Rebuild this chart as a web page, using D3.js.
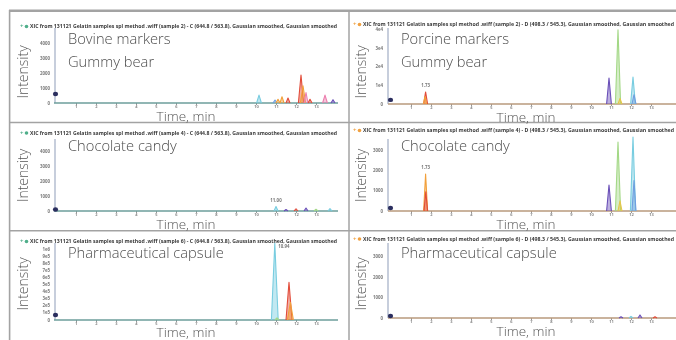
<!DOCTYPE html>
<html><head><meta charset="utf-8">
<script src="https://cdn.jsdelivr.net/npm/d3@7"></script>
<style>body{margin:0;background:#fff}svg{display:block}</style>
</head><body><svg id="c" width="676" height="340"></svg>
<script>
// ---------------- data ----------------
const timeTicks = [1,2,3,4,5,6,7,8,9,10,11,12,13];
const markerSeries = ["cyan","blue","green","purple","red","orange","pink","yellow"];
const seriesColors = ["#78cde0","#6f9fe0","#a3d886","#6a4fb8","#e24c3a","#f2a03a","#ec7eae","#e6c64a"];

const panelTitles = [
  ["Bovine markers","Gummy bear"], ["Porcine markers","Gummy bear"],
  ["Chocolate candy"], ["Chocolate candy"],
  ["Pharmaceutical capsule"], ["Pharmaceutical capsule"]
];
const headerTexts = [
  "XIC from 131121 Gelatin samples spl method .wiff (sample 2) - C (644.8 / 563.8), Gaussian smoothed, Gaussian smoothed",
  "XIC from 131121 Gelatin samples spl method .wiff (sample 2) - D (498.3 / 545.3), Gaussian smoothed, Gaussian smoothed",
  "XIC from 131121 Gelatin samples spl method .wiff (sample 4) - C (644.8 / 563.8), Gaussian smoothed, Gaussian smoothed",
  "XIC from 131121 Gelatin samples spl method .wiff (sample 4) - D (498.3 / 545.3), Gaussian smoothed, Gaussian smoothed",
  "XIC from 131121 Gelatin samples spl method .wiff (sample 6) - C (644.8 / 563.8), Gaussian smoothed, Gaussian smoothed",
  "XIC from 131121 Gelatin samples spl method .wiff (sample 6) - D (498.3 / 545.3), Gaussian smoothed, Gaussian smoothed"
];

// peaks: [retention time (min), intensity, half width (min), series]
const bovineGummyPeaks = [
  [10.15, 530, 0.12, "cyan"], [10.95, 200, 0.10, "blue"], [11.1, 250, 0.10, "orange"],
  [11.3, 420, 0.10, "orange"], [11.6, 330, 0.10, "red"], [12.25, 1870, 0.13, "red"],
  [12.35, 1150, 0.13, "orange"], [12.5, 700, 0.10, "pink"], [12.7, 250, 0.10, "red"],
  [13.45, 530, 0.12, "pink"], [13.85, 220, 0.10, "purple"]
];
const porcineGummyPeaks = [
  [1.73, 6500, 0.10, "red"], [1.70, 4000, 0.08, "orange"], [10.9, 14000, 0.12, "purple"],
  [11.35, 40000, 0.13, "green"], [11.45, 3000, 0.10, "yellow"], [12.1, 14500, 0.12, "cyan"],
  [12.15, 5000, 0.10, "blue"]
];
const bovineChocolatePeaks = [
  [11.0, 300, 0.10, "cyan"], [11.5, 100, 0.10, "purple"], [12.0, 150, 0.10, "red"],
  [12.5, 200, 0.10, "purple"], [13.0, 120, 0.10, "green"], [13.7, 160, 0.10, "cyan"]
];
const porcineChocolatePeaks = [
  [1.73, 1820, 0.10, "orange"], [1.74, 950, 0.09, "red"], [10.9, 1280, 0.12, "purple"],
  [11.35, 3400, 0.13, "green"], [11.45, 500, 0.10, "yellow"], [12.1, 3650, 0.13, "cyan"],
  [12.15, 1500, 0.10, "blue"]
];
const bovinePharmaPeaks = [
  [10.94, 1080000, 0.17, "cyan"], [11.05, 30000, 0.10, "green"],
  [11.65, 530000, 0.15, "red"], [11.72, 250000, 0.15, "orange"]
];
const porcinePharmaPeaks = [
  [11.5, 60, 0.10, "purple"], [12.0, 80, 0.10, "cyan"], [12.45, 150, 0.10, "purple"], [13.2, 60, 0.10, "red"]
];
// intensity of each trace at t = 0 (start marker)
const startIntensity = [600, 2200, 60, 150, 70000, 100];
// labelled peak retention times
const labelRT = [null, 1.73, 11.0, 1.73, 10.94, null];

const yTicksBovineGummy = [0,1000,2000,3000,4000];
const yLabelsBovineGummy = ["0","1000","2000","3000","4000"];
const yTicksPorcineGummy = [0,10000,20000,30000,40000];
const yLabelsPorcineGummy = ["0","1e4","2e4","3e4","4e4"];
const yTicksBovineChocolate = [0,1000,2000,3000,4000];
const yLabelsBovineChocolate = ["0","1000","2000","3000","4000"];
const yTicksPorcineChocolate = [0,1000,2000,3000];
const yLabelsPorcineChocolate = ["0","1000","2000","3000"];
const yTicksBovinePharma = [0,1e5,2e5,3e5,4e5,5e5,6e5,7e5,8e5,9e5,1e6];
const yLabelsBovinePharma = ["0","1e5","2e5","3e5","4e5","5e5","6e5","7e5","8e5","9e5","1e6"];
const yTicksPorcinePharma = [0,1000,2000,3000];
const yLabelsPorcinePharma = ["0","1000","2000","3000"];

const yMaxes = [5000, 41000, 4800, 3550, 1085000, 3660];

// ---------------- layout ----------------
const svg = d3.select("#c");
const defs = svg.append("defs");
defs.append("filter").attr("id","soft").attr("x","-5%").attr("y","-5%").attr("width","110%").attr("height","110%")
  .append("feGaussianBlur").attr("stdDeviation",0.45);
const root = svg.append("g").attr("filter","url(#soft)");

const cols = [
  {xr:[54,338], dom:[-0.1,14.1], yAxisX:55, titleX:68, intX:22.5, tickLabX:50, hx0:20, hx1:337, timeX:186, axisCol:"#6d9e9b", mark:"#4fae8a"},
  {xr:[388,676], dom:[-0.15,14.25], yAxisX:388, titleX:401, intX:361, tickLabX:383, hx0:353, hx1:674, timeX:526, axisCol:"#b99a7c", mark:"#f0a040"}
];
const rows = [
  {top:[28,28], base:[103,104], titleY:[44,66.7], headY:[26.5,24.5], intY:72},
  {top:[139,139], base:[211,211], titleY:[151], headY:[133,130.5], intY:175.5},
  {top:[243,243], base:[320,318], titleY:[257.5], headY:[241.5,239], intY:284}
];
const timeGap = 17.8;
const peaksByPanel = [bovineGummyPeaks, porcineGummyPeaks, bovineChocolatePeaks, porcineChocolatePeaks, bovinePharmaPeaks, porcinePharmaPeaks];
const yTicksByPanel = [yTicksBovineGummy, yTicksPorcineGummy, yTicksBovineChocolate, yTicksPorcineChocolate, yTicksBovinePharma, yTicksPorcinePharma];
const yLabelsByPanel = [yLabelsBovineGummy, yLabelsPorcineGummy, yLabelsBovineChocolate, yLabelsPorcineChocolate, yLabelsBovinePharma, yLabelsPorcinePharma];

const color = d3.scaleOrdinal().domain(markerSeries).range(seriesColors);
const font = "'Open Sans', 'Noto Sans', sans-serif";

// frame
const frame = root.append("g").attr("stroke","#a3a3a3").attr("fill","none");
frame.append("line").attr("x1",9).attr("x2",676).attr("y1",10.8).attr("y2",10.8).attr("stroke-width",2.6);
frame.append("line").attr("x1",9.6).attr("x2",9.6).attr("y1",10).attr("y2",340).attr("stroke-width",1.6);
frame.append("line").attr("x1",349).attr("x2",349).attr("y1",10).attr("y2",340).attr("stroke-width",1.5);
frame.append("line").attr("x1",9).attr("x2",676).attr("y1",122.5).attr("y2",122.5).attr("stroke-width",1.5);
frame.append("line").attr("x1",9).attr("x2",676).attr("y1",230.8).attr("y2",230.8).attr("stroke-width",1.5);

const line = d3.line();

peaksByPanel.forEach((peaks, i) => {
  const c = cols[i % 2], r = rows[Math.floor(i / 2)], side = i % 2;
  const top = r.top[side], base = r.base[side];
  const x = d3.scaleLinear().domain(c.dom).range(c.xr);
  const y = d3.scaleLinear().domain([0, yMaxes[i]]).range([base, top]);
  const g = root.append("g");

  // header
  g.append("text").attr("x", c.hx0).attr("y", r.headY[side] + 1.5).attr("font-family", font)
    .attr("font-size", 6).attr("font-weight", 700).attr("fill", c.mark).text("+");
  g.append("circle").attr("cx", c.hx0 + 6.5).attr("cy", r.headY[side]).attr("r", 1.8).attr("fill", c.mark);
  g.append("text").attr("x", c.hx0 + 10).attr("y", r.headY[side] + 1.6).attr("font-family", font)
    .attr("font-size", 4.6).attr("font-weight", 700).attr("fill", "#3a3a3a")
    .attr("textLength", c.hx1 - c.hx0 - 10).attr("lengthAdjust", "spacingAndGlyphs").text(headerTexts[i]);

  // y axis
  g.append("line").attr("x1", c.yAxisX).attr("x2", c.yAxisX).attr("y1", top).attr("y2", base)
    .attr("stroke", "#b9c2d4").attr("stroke-width", 1.6);
  const yt = yTicksByPanel[i], yl = yLabelsByPanel[i];
  g.selectAll(".yl").data(yt).enter().append("text")
    .attr("x", c.tickLabX).attr("y", d => y(d) + 1.5).attr("text-anchor", "end")
    .attr("font-family", font).attr("font-size", 4.4).attr("font-weight", 700).attr("fill", "#7a7a7a")
    .text((d, k) => yl[k]);

  // x axis
  const xa = g.append("g").attr("transform", `translate(0,${base})`)
    .call(d3.axisBottom(x).tickValues(timeTicks).tickSize(2).tickPadding(0.2).tickFormat(d3.format("d")));
  xa.select(".domain").remove();
  xa.selectAll(".tick line").attr("stroke", "#8a8a8a").attr("stroke-width", 0.9);
  xa.selectAll(".tick text").attr("font-family", font).attr("font-size", 4).attr("font-weight", 700).attr("fill", "#8a8a8a");
  g.append("line").attr("x1", c.xr[0]).attr("x2", c.xr[1]).attr("y1", base).attr("y2", base)
    .attr("stroke", c.axisCol).attr("stroke-width", 1.6);

  // peaks
  g.selectAll(".pk").data(peaks).enter().append("path")
    .attr("d", p => line([[x(p[0] - p[2]), y(0)], [x(p[0]), y(p[1])], [x(p[0] + p[2]), y(0)]]))
    .attr("fill", p => color(p[3])).attr("fill-opacity", 0.45)
    .attr("stroke", p => color(p[3])).attr("stroke-width", 1.1).attr("stroke-linejoin", "round");

  // start marker
  g.append("ellipse").attr("cx", x(0) - 0.5).attr("cy", Math.min(y(startIntensity[i]), base - 1.5))
    .attr("rx", 2.6).attr("ry", 2.2).attr("fill", "#2c2f5e");

  // peak label
  if (labelRT[i] !== null) {
    const p = peaks.find(q => q[0] === labelRT[i]);
    const lx = i === 4 ? x(p[0]) + 9 : x(p[0]);
    const ly = i === 4 ? y(p[1]) + 5 : y(p[1]) - 5;
    g.append("text").attr("x", lx).attr("y", ly).attr("text-anchor", "middle")
      .attr("font-family", font).attr("font-size", 4.4).attr("font-weight", 700).attr("fill", "#777")
      .text(d3.format(".2f")(p[0]));
  }

  // titles
  panelTitles[i].forEach((t, k) => {
    g.append("text").attr("x", c.titleX).attr("y", r.titleY[k]).attr("font-family", font)
      .attr("font-size", 14.7).attr("font-weight", 300).attr("fill", "#4d4d4d").text(t);
  });
  // axis titles
  g.append("text").attr("transform", `translate(${c.intX + 5},${r.intY}) rotate(-90)`)
    .attr("text-anchor", "middle").attr("font-family", font).attr("font-size", 14).attr("font-weight", 300)
    .attr("fill", "#555").text("Intensity");
  g.append("text").attr("x", c.timeX).attr("y", Math.min(base + timeGap, 336.6)).attr("text-anchor", "middle")
    .attr("font-family", font).attr("font-size", 13.5).attr("font-weight", 300).attr("fill", "#555").text("Time, min");
});
</script></body></html>
